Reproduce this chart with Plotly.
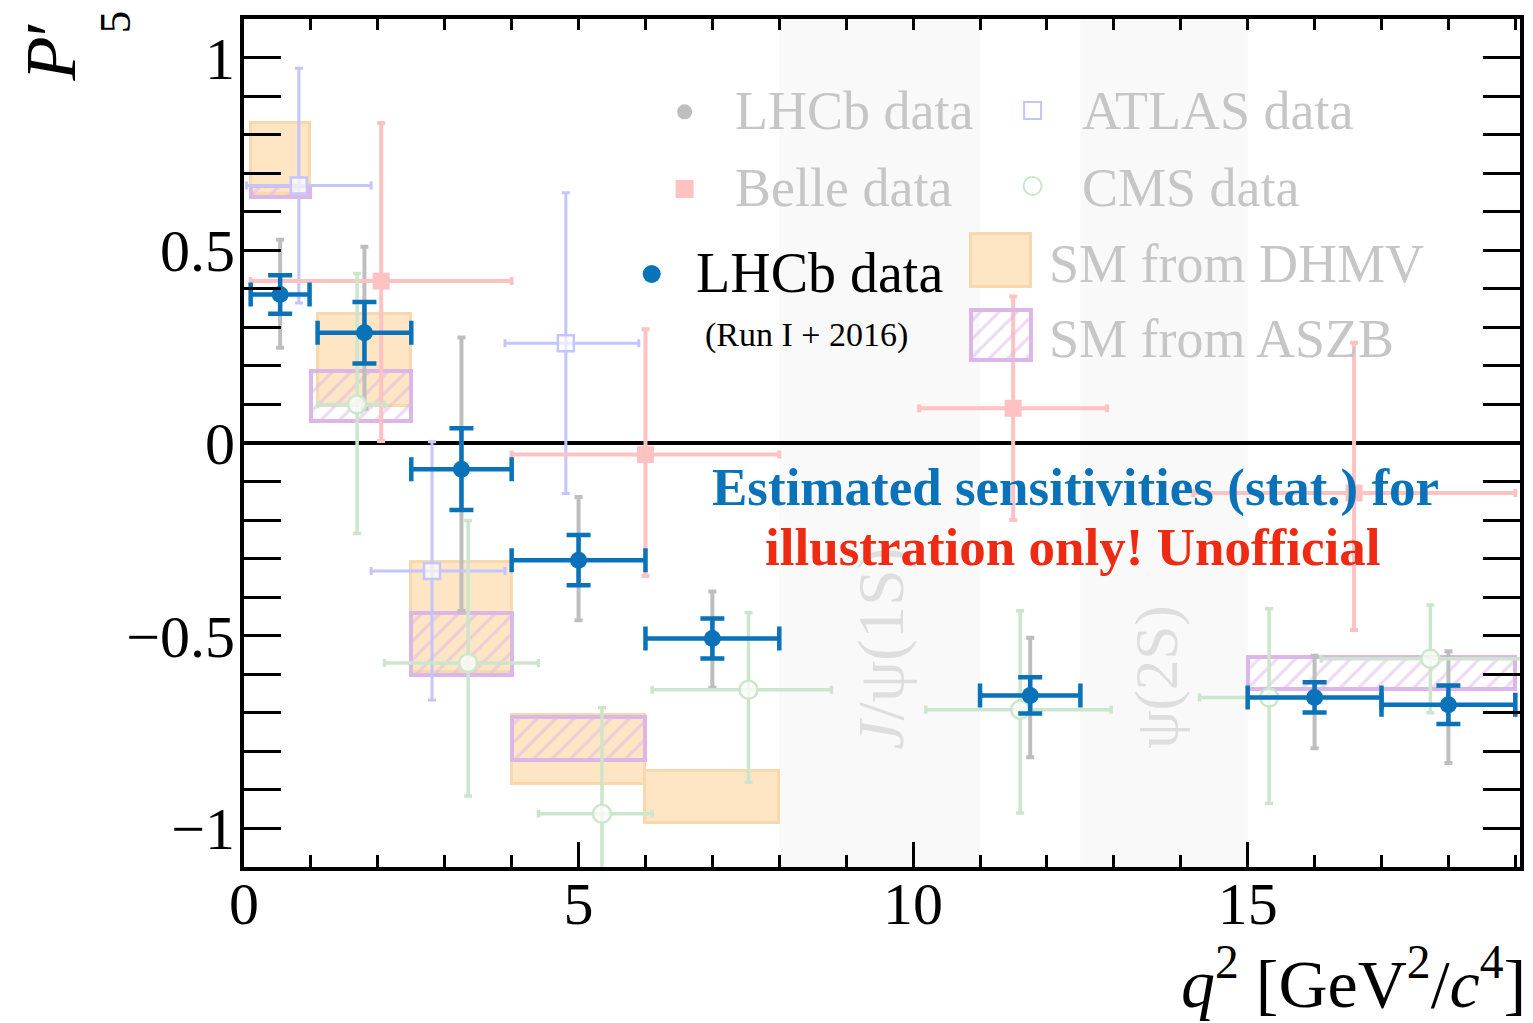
import plotly.graph_objects as go

# ---------------- data ----------------
# LHCb Run I + 2016 (blue, stat. only)
lhcb_bin_lo = [0.1, 1.1, 2.5, 4.0, 6.0, 11.0, 15.0, 17.0]
lhcb_bin_hi = [0.98, 2.5, 4.0, 6.0, 8.0, 12.5, 17.0, 19.0]
lhcb_new_y = [0.385, 0.286, -0.068, -0.304, -0.507, -0.655, -0.660, -0.679]
lhcb_new_err = [0.050, 0.080, 0.106, 0.065, 0.052, 0.047, 0.039, 0.050]

# LHCb published (grey)
lhcb_old_y = [0.387, 0.289, -0.066, -0.300, -0.505, -0.655, -0.662, -0.676]
lhcb_old_up = [0.140, 0.220, 0.340, 0.160, 0.120, 0.150, 0.110, 0.136]
lhcb_old_dn = [0.140, 0.200, 0.370, 0.160, 0.130, 0.160, 0.130, 0.154]

# ATLAS
atlas_x = [0.82, 2.81, 4.81]
atlas_bin_lo = [0.04, 1.9, 3.9]
atlas_bin_hi = [1.9, 3.9, 5.9]
atlas_y = [0.668, -0.332, 0.259]
atlas_up = [0.304, 0.335, 0.390]
atlas_dn = [0.305, 0.335, 0.390]

# Belle
belle_bin_lo = [0.1, 4.0, 10.09, 14.18]
belle_bin_hi = [4.0, 8.0, 12.9, 19.0]
belle_y = [0.42, -0.03, 0.09, -0.13]
belle_up = [0.410, 0.325, 0.290, 0.390]
belle_dn = [0.415, 0.315, 0.290, 0.355]

# CMS
cms_x = [1.69, 3.35, 5.35, 7.54, 11.60, 15.32, 17.73]
cms_bin_lo = [1.1, 2.1, 4.4, 6.1, 10.19, 14.28, 16.1]
cms_bin_hi = [2.1, 4.4, 6.1, 8.78, 12.96, 16.1, 19.1]
cms_y = [0.100, -0.571, -0.962, -0.640, -0.692, -0.660, -0.560]
cms_up = [0.340, 0.370, 0.275, 0.200, 0.257, 0.230, 0.140]
cms_dn = [0.335, 0.345, 0.300, 0.240, 0.268, 0.275, 0.140]

# SM predictions
dhmv_bin_lo = [0.1, 1.1, 2.5, 4.0, 6.0]
dhmv_bin_hi = [0.98, 2.5, 4.0, 6.0, 8.0]
dhmv_lo = [0.645, 0.095, -0.595, -0.885, -0.985]
dhmv_hi = [0.830, 0.335, -0.310, -0.705, -0.850]

aszb_bin_lo = [0.1, 1.0, 2.5, 4.0, 15.0]
aszb_bin_hi = [0.98, 2.5, 4.0, 6.0, 19.0]
aszb_lo = [0.637, 0.058, -0.603, -0.822, -0.637]
aszb_hi = [0.667, 0.187, -0.440, -0.711, -0.556]

# charmonium veto regions
veto_lo = [8.0, 12.5]
veto_hi = [11.0, 15.0]
veto_labels = ["<i>J</i>/ψ(1S)", "ψ(2S)"]
veto_label_size = [66, 61]
veto_label_x = [9.52, 13.65]
veto_label_y = [-0.534, -0.608]

x_ticks_major = [0, 5, 10, 15]
y_ticks_major = [-1, -0.5, 0, 0.5, 1]
y_tick_text = ["\u22121", "\u22120.5", "0", "0.5", "1"]

# ---------------- styling ----------------
FONT = "Liberation Serif"
BLUE = "#0A72B9"
GREY = "#BEBEBE"
ATLAS_C = "#C4C4FF"
BELLE_C = "#FFC2C2"
CMS_C = "#CBE6CB"
ORANGE_F = "#FEE5C3"
ORANGE_L = "#F8D9AE"
PURPLE = "#DDB6E8"
LEG_GREY = "#C6C6C6"

def centers(lo, hi):
    return [(a + b) / 2 for a, b in zip(lo, hi)]

lhcb_x = centers(lhcb_bin_lo, lhcb_bin_hi)
belle_x = centers(belle_bin_lo, belle_bin_hi)

HATCH = dict(shape="/", fgcolor=PURPLE, bgcolor="rgba(0,0,0,0)",
             size=13, solidity=0.25, fillmode="overlay")

fig = go.Figure()

# SM DHMV boxes
fig.add_trace(go.Bar(
    x=centers(dhmv_bin_lo, dhmv_bin_hi),
    width=[b - a for a, b in zip(dhmv_bin_lo, dhmv_bin_hi)],
    base=dhmv_lo, y=[h - l for l, h in zip(dhmv_lo, dhmv_hi)],
    marker=dict(color=ORANGE_F, line=dict(color=ORANGE_L, width=3)),
    hoverinfo="skip", showlegend=False))

# SM ASZB hatched boxes
fig.add_trace(go.Bar(
    x=centers(aszb_bin_lo, aszb_bin_hi),
    width=[b - a for a, b in zip(aszb_bin_lo, aszb_bin_hi)],
    base=aszb_lo, y=[h - l for l, h in zip(aszb_lo, aszb_hi)],
    marker=dict(color="rgba(0,0,0,0)", line=dict(color=PURPLE, width=4), pattern=HATCH),
    hoverinfo="skip", showlegend=False))

# grey LHCb published
fig.add_trace(go.Scatter(
    x=lhcb_x, y=lhcb_old_y, mode="markers",
    marker=dict(color=GREY, size=13),
    error_y=dict(type="data", symmetric=False, array=lhcb_old_up, arrayminus=lhcb_old_dn,
                 color=GREY, thickness=4, width=4),
    hoverinfo="skip", showlegend=False))

# ATLAS
fig.add_trace(go.Scatter(
    x=atlas_x, y=atlas_y, mode="markers",
    marker=dict(symbol="square", size=16, color="rgba(255,255,255,0.65)",
                line=dict(color=ATLAS_C, width=2.5)),
    error_y=dict(type="data", symmetric=False, array=atlas_up, arrayminus=atlas_dn,
                 color=ATLAS_C, thickness=3, width=4),
    error_x=dict(type="data", symmetric=False,
                 array=[h - x for h, x in zip(atlas_bin_hi, atlas_x)],
                 arrayminus=[x - l for l, x in zip(atlas_bin_lo, atlas_x)],
                 color=ATLAS_C, thickness=3, width=4),
    hoverinfo="skip", showlegend=False))

# Belle
fig.add_trace(go.Scatter(
    x=belle_x, y=belle_y, mode="markers",
    marker=dict(symbol="square", size=17, color=BELLE_C),
    error_y=dict(type="data", symmetric=False, array=belle_up, arrayminus=belle_dn,
                 color=BELLE_C, thickness=4, width=4),
    error_x=dict(type="data", symmetric=False,
                 array=[h - x for h, x in zip(belle_bin_hi, belle_x)],
                 arrayminus=[x - l for l, x in zip(belle_bin_lo, belle_x)],
                 color=BELLE_C, thickness=4, width=4),
    hoverinfo="skip", showlegend=False))

# CMS
fig.add_trace(go.Scatter(
    x=cms_x, y=cms_y, mode="markers",
    marker=dict(symbol="circle", size=18, color="rgba(255,255,255,0.7)",
                line=dict(color=CMS_C, width=2.5)),
    error_y=dict(type="data", symmetric=False, array=cms_up, arrayminus=cms_dn,
                 color=CMS_C, thickness=3.5, width=4),
    error_x=dict(type="data", symmetric=False,
                 array=[h - x for h, x in zip(cms_bin_hi, cms_x)],
                 arrayminus=[x - l for l, x in zip(cms_bin_lo, cms_x)],
                 color=CMS_C, thickness=3.5, width=4),
    hoverinfo="skip", showlegend=False))

# LHCb Run I + 2016 (blue)
fig.add_trace(go.Scatter(
    x=lhcb_x, y=lhcb_new_y, mode="markers",
    marker=dict(color=BLUE, size=17),
    error_y=dict(type="data", array=lhcb_new_err, color=BLUE, thickness=4.5, width=12),
    error_x=dict(type="data", symmetric=False,
                 array=[h - x for h, x in zip(lhcb_bin_hi, lhcb_x)],
                 arrayminus=[x - l for l, x in zip(lhcb_bin_lo, lhcb_x)],
                 color=BLUE, thickness=4.5, width=12),
    hoverinfo="skip", showlegend=False))

# top-axis ticks carrier
fig.add_trace(go.Scatter(x=[None], y=[None], xaxis="x2", yaxis="y",
                         showlegend=False, hoverinfo="skip"))

# ---------------- legend (drawn in an overlay 0..1 frame) ----------------
leg_pts = [
    dict(x=0.3453, y=0.8905, symbol="circle", size=15, color=GREY, lc=GREY, lw=0),
    dict(x=0.6180, y=0.8920, symbol="square-open", size=17, color=ATLAS_C, lc=ATLAS_C, lw=2),
    dict(x=0.3453, y=0.7995, symbol="square", size=18, color=BELLE_C, lc=BELLE_C, lw=0),
    dict(x=0.6180, y=0.8031, symbol="circle-open", size=18, color=CMS_C, lc=CMS_C, lw=2),
    dict(x=0.3195, y=0.6993, symbol="circle", size=18, color=BLUE, lc=BLUE, lw=0),
]
for p in leg_pts:
    fig.add_trace(go.Scatter(x=[p["x"]], y=[p["y"]], mode="markers", xaxis="x3", yaxis="y3",
                             marker=dict(symbol=p["symbol"], size=p["size"], color=p["color"],
                                         line=dict(color=p["lc"], width=p["lw"])),
                             hoverinfo="skip", showlegend=False))
fig.add_trace(go.Bar(x=[0.5934], width=[0.047], base=[0.6845], y=[0.0615], xaxis="x3", yaxis="y3",
                     marker=dict(color=ORANGE_F, line=dict(color=ORANGE_L, width=3)),
                     hoverinfo="skip", showlegend=False))
fig.add_trace(go.Bar(x=[0.5934], width=[0.047], base=[0.5975], y=[0.0595], xaxis="x3", yaxis="y3",
                     marker=dict(color="rgba(0,0,0,0)", line=dict(color=PURPLE, width=4), pattern=HATCH),
                     hoverinfo="skip", showlegend=False))

annotations = []
def leg_text(text, x, y, color, size):
    annotations.append(dict(text=text, x=x, y=y, xref="paper", yref="paper",
                            xanchor="left", yanchor="middle", showarrow=False,
                            font=dict(family=FONT, size=size, color=color)))

leg_text("LHCb data", 0.3836, 0.8915, LEG_GREY, 54)
leg_text("ATLAS data", 0.6555, 0.8915, LEG_GREY, 54)
leg_text("Belle data", 0.3836, 0.8010, LEG_GREY, 54)
leg_text("CMS data", 0.6555, 0.8010, LEG_GREY, 54)
leg_text("LHCb data", 0.3525, 0.7005, "black", 56)
leg_text("(Run I + 2016)", 0.3600, 0.6270, "black", 34)
leg_text("SM from DHMV", 0.6297, 0.7115, LEG_GREY, 54)
leg_text("SM from ASZB", 0.6297, 0.6230, LEG_GREY, 54)

# veto labels
for t, x, y, s in zip(veto_labels, veto_label_x, veto_label_y, veto_label_size):
    annotations.append(dict(text=t, x=x, y=y, xref="x", yref="y", textangle=-90,
                            showarrow=False, xanchor="center", yanchor="middle",
                            font=dict(family=FONT, size=s, color="#DEDEDE")))

# warning text
annotations.append(dict(text="<b>Estimated sensitivities (stat.) for</b>", x=0.6516, y=0.447,
                        xref="paper", yref="paper", showarrow=False,
                        font=dict(family=FONT, size=53, color=BLUE)))
annotations.append(dict(text="<b>illustration only! Unofficial</b>", x=0.6492, y=0.377,
                        xref="paper", yref="paper", showarrow=False,
                        font=dict(family=FONT, size=53, color="#EE2A12")))

# axis titles
annotations.append(dict(text="<i>q</i><sup>2</sup> [GeV<sup>2</sup>/<i>c</i><sup>4</sup>]",
                        x=1.0, y=-0.132, xref="paper", yref="paper", xshift=8,
                        xanchor="right", yanchor="middle", showarrow=False,
                        font=dict(family=FONT, size=68, color="black")))
annotations.append(dict(text="<i>P</i>\u2032", x=-0.152, y=1.0,
                        xref="paper", yref="paper", textangle=-90,
                        xanchor="center", yanchor="top", showarrow=False,
                        font=dict(family=FONT, size=72, color="black")))
annotations.append(dict(text="5", x=-0.1008, y=0.9965,
                        xref="paper", yref="paper", textangle=-90,
                        xanchor="center", yanchor="middle", showarrow=False,
                        font=dict(family=FONT, size=45, color="black")))

shapes = []
for a, b in zip(veto_lo, veto_hi):
    shapes.append(dict(type="rect", xref="x", yref="paper", x0=a, x1=b, y0=0, y1=1,
                       fillcolor="#F9F9F9", line=dict(width=0), layer="below"))

fig.update_layout(
    width=1533, height=1023,
    margin=dict(l=244, r=9, t=19, b=156),
    paper_bgcolor="white", plot_bgcolor="white",
    barmode="overlay", bargap=0,
    showlegend=False,
    font=dict(family=FONT, color="black"),
    shapes=shapes, annotations=annotations,
    xaxis=dict(range=[0, 19.07], tickmode="array", tickvals=x_ticks_major,
               ticktext=[str(v) for v in x_ticks_major],
               ticks="inside", ticklen=25, tickwidth=3, tickcolor="black",
               minor=dict(dtick=1, tick0=0, ticks="inside", ticklen=12, tickwidth=3,
                          tickcolor="black", showgrid=False),
               showline=True, linewidth=4, linecolor="black", mirror=True,
               showgrid=False, zeroline=False, ticklabelstandoff=-19,
               tickfont=dict(family=FONT, size=60, color="black")),
    xaxis2=dict(range=[0, 19.07], overlaying="x", side="top", anchor="y",
                tickmode="linear", tick0=0, dtick=1, ticks="inside", ticklen=11,
                tickwidth=3, tickcolor="black", showticklabels=False,
                showline=False, showgrid=False, zeroline=False),
    yaxis=dict(range=[-1.1, 1.1], tickmode="array", tickvals=y_ticks_major, ticktext=y_tick_text,
               ticks="inside", ticklen=37, tickwidth=3, tickcolor="black",
               minor=dict(dtick=0.1, tick0=0, ticks="inside", ticklen=19, tickwidth=3,
                          tickcolor="black", showgrid=False),
               showline=True, linewidth=4, linecolor="black", mirror="allticks",
               showgrid=False, zeroline=True, zerolinecolor="black", zerolinewidth=3.5,
               ticklabelstandoff=-7,
               tickfont=dict(family=FONT, size=60, color="black")),
    xaxis3=dict(range=[0, 1], overlaying="x", visible=False, anchor="y3"),
    yaxis3=dict(range=[0, 1], overlaying="y", visible=False, anchor="x3"),
)

fig.write_html("out.html")
